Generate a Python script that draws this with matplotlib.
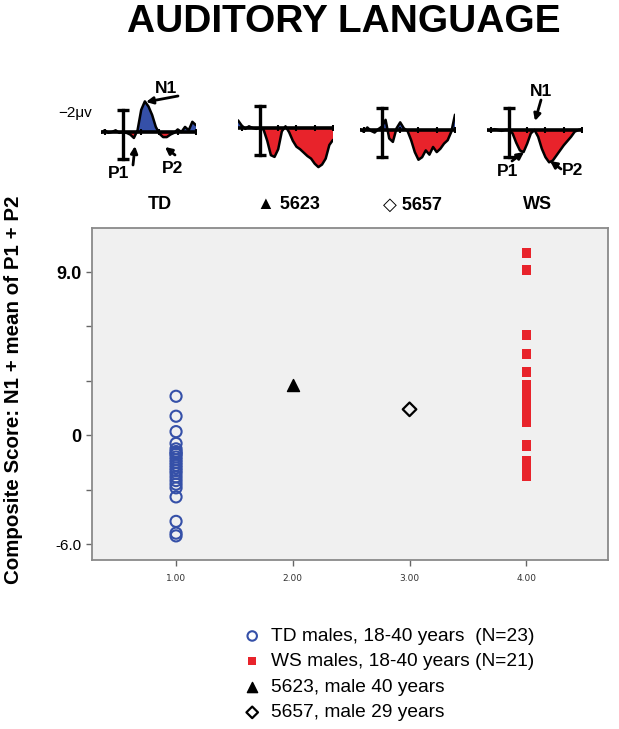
import numpy as np
import matplotlib
matplotlib.use("Agg")
import matplotlib.pyplot as plt
from matplotlib.transforms import ScaledTranslation

plt.rcParams['font.family'] = ['Liberation Sans', 'DejaVu Sans']

# scatter data (composite score, microvolts)
td_scores = [2.15, 1.05, 0.2, -0.45, -0.75, -0.9, -1.0, -1.05, -1.2, -1.35, -1.5, -1.65,
             -1.8, -1.95, -2.1, -2.3, -2.5, -2.7, -2.9, -3.4, -4.75, -5.4, -5.55]
ws_scores = [10.06, 9.1, 5.52, 4.47, 3.49, 2.81, 2.5, 2.2, 1.77, 1.55, 1.38, 1.2, 1.05,
             0.9, 0.72, -0.5, -0.6, -1.38, -1.82, -2.0, -2.26]
s5623_score = [2.76]
s5657_score = [1.43]

legend_labels = ["TD males, 18-40 years  (N=23)", "WS males, 18-40 years (N=21)",
                 "5623, male 40 years", "5657, male 29 years"]

# ERP waveforms for the insets (ms, uV; negative drawn upward)
erp_time = [-120, -100, -80, -60, -40, -20, 0, 20, 40, 60, 80, 100, 120, 140,
            160, 180, 200, 220, 240, 260, 280, 300, 320, 340, 360, 380, 400]
erp_td = [0.1, -0.2, 0.1, 0.0, -0.2, 0.1, 0.0, 0.1, 0.3, 0.7, -0.2, -2.6, -3.6, -3.0,
          -2.0, -0.6, 0.2, 0.6, 0.6, 0.3, 0.1, -0.3, 0.0, -0.6, -0.2, -1.2, -0.8]
erp_5623 = [-0.9, -0.3, 0.1, -0.2, 0.0, 0.1, 0.0, 0.2, 1.5, 3.2, 3.4, 2.5, 0.4, -0.2,
            0.5, 1.5, 2.2, 2.5, 2.9, 3.3, 3.6, 4.2, 4.6, 4.3, 3.6, 2.0, 1.4]
erp_5657 = [-0.1, 0.2, -0.3, 0.1, 0.3, -0.1, -0.4, -1.2, 1.0, 1.4, -0.2, -0.9, -0.2, 0.1,
            1.2, 2.6, 3.5, 3.2, 2.4, 2.9, 2.0, 2.6, 2.2, 1.6, 1.2, 0.2, -1.8]
erp_ws = [0.0, 0.1, -0.1, 0.0, 0.1, 0.0, 0.0, 0.4, 1.5, 2.4, 2.6, 1.6, 0.4, 0.0,
          0.8, 2.2, 3.2, 3.8, 3.6, 3.0, 2.4, 1.8, 1.3, 0.8, 0.2, 0.0, -0.1]
erp_ticks = [-100, 100, 200, 300, 400]

W, H = 619, 729
fig = plt.figure(figsize=(W / 100, H / 100), dpi=100)

def fig_rect(left, top, right, bottom):
    # pixel box -> figure fraction
    return [left / W, 1 - bottom / H, (right - left) / W, (bottom - top) / H]

RED = '#e8232b'
BLUE = '#3550a8'

# main scatter
ax = fig.add_axes(fig_rect(92, 228, 608, 560))
ax.set_facecolor('#f0f0f0')
h_td = ax.scatter([1] * len(td_scores), td_scores, s=64, facecolors='none',
                  edgecolors=BLUE, linewidths=1.5, zorder=3)
h_ws = ax.scatter([4] * len(ws_scores), ws_scores, s=47, marker='s', color=RED,
                  edgecolors='none', zorder=3)
h_23 = ax.scatter([2], s5623_score, s=75, marker='^', color='black', zorder=3)
h_57 = ax.scatter([3], s5657_score, s=48, marker='D', facecolors='none',
                  edgecolors='black', linewidths=1.6, zorder=3)
ax.set_xlim(0.28, 4.70)
ax.set_ylim(-6.88, 11.43)
ax.set_xticks([1, 2, 3, 4])
ax.set_xticklabels(['1.00', '2.00', '3.00', '4.00'], family='DejaVu Sans',
                   fontsize=6.5, color='#333333')
ax.set_yticks([-6, -3, 0, 3, 6, 9])
ax.set_yticklabels(['-6.0', '', '0', '', '', '9.0'])
for lab in ax.get_yticklabels():
    if lab.get_text() == '-6.0':
        lab.set_fontsize(11)
        lab.set_transform(lab.get_transform() + ScaledTranslation(-6 / 100, 0, fig.dpi_scale_trans))
    else:
        lab.set_fontsize(13)
        lab.set_fontweight('bold')
ax.tick_params(colors='#666666', length=4, width=1, labelcolor='black')
ax.tick_params(axis='x', labelcolor='#333333', pad=6)
for sp in ax.spines.values():
    sp.set_color('#8a8a8a')
    sp.set_linewidth(1.3)

fig.text(14 / W, 1 - 390 / H, 'Composite Score: N1 + mean of P1 + P2', rotation=90,
         ha='center', va='center', fontsize=14.8, fontweight='bold')

fig.text(344 / W, 1 - 22 / H, 'AUDITORY LANGUAGE', ha='center', va='center',
         fontsize=28, fontweight='bold')

leg = ax.legend([h_td, h_ws, h_23, h_57], legend_labels, loc='upper left',
                bbox_to_anchor=(234 / W, 1 - 618 / H), bbox_transform=fig.transFigure,
                frameon=False, fontsize=13.8, handlelength=0.9, handletextpad=0.55,
                labelspacing=0.42, borderpad=0, scatterpoints=1, markerscale=0.85)

# ERP insets
def draw_erp(bar_x, base_y, v):
    iax = fig.add_axes(fig_rect(bar_x - 22, base_y - 42.5, bar_x + 73, base_y + 46.75))
    iax.set_xlim(-120, 400)
    iax.set_ylim(5.5, -5.0)
    iax.axis('off')
    t = np.array(erp_time)
    v = np.array(v)
    iax.fill_between(t, 0, v, where=v > 0, interpolate=True, color=RED, lw=0)
    iax.fill_between(t, 0, v, where=v < 0, interpolate=True, color=BLUE, lw=0)
    iax.plot(t, v, color='black', lw=1.8, solid_capstyle='round')
    iax.axhline(0, color='black', lw=2.6)
    iax.plot(erp_ticks, [0] * len(erp_ticks), '|', color='black', ms=5, mew=1.5)
    iax.plot([0, 0], [-2.6, 3.2], color='black', lw=2.4)
    iax.plot([0, 0], [-2.6, 3.2], '_', color='black', ms=9, mew=2.4)
    return iax

draw_erp(123, 132, erp_td)
draw_erp(260, 128, erp_5623)
draw_erp(382, 130, erp_5657)
draw_erp(509, 130, erp_ws)

# overlay for labels and arrows, in pixel coordinates
ov = fig.add_axes([0, 0, 1, 1])
ov.set_xlim(0, W)
ov.set_ylim(H, 0)
ov.axis('off')
ov.patch.set_alpha(0)

lab_kw = dict(ha='center', va='center', fontsize=13, fontweight='bold')
ov.text(160, 204, 'TD', **lab_kw)
ov.text(288, 204, '▲ 5623', **lab_kw)
ov.text(412, 205, '◇ 5657', **lab_kw)
ov.text(538, 204, 'WS', **lab_kw)
ov.text(92, 113, '−2μv', ha='right', va='center', fontsize=11)

arrow = dict(arrowstyle='-|>', color='black', lw=2, mutation_scale=10, shrinkA=0, shrinkB=0)
pk = dict(fontsize=12.5, fontweight='bold', ha='center', va='center')
ov.annotate('', xy=(146, 102), xytext=(178, 96), arrowprops=arrow)
ov.text(166, 88, 'N1', **pk)
ov.annotate('', xy=(135, 146), xytext=(133, 165), arrowprops=arrow)
ov.text(119, 173, 'P1', **pk)
ov.annotate('', xy=(165, 147), xytext=(175, 155), arrowprops=arrow)
ov.text(173, 168, 'P2', **pk)

ov.text(541, 91, 'N1', **pk)
ov.annotate('', xy=(535, 121), xytext=(541, 100), arrowprops=arrow)
ov.text(508, 171, 'P1', **pk)
ov.annotate('', xy=(524, 152), xytext=(512, 161), arrowprops=arrow)
ov.text(573, 170, 'P2', **pk)
ov.annotate('', xy=(550, 161), xytext=(561, 169), arrowprops=arrow)

fig.savefig('out.png', dpi=100)
